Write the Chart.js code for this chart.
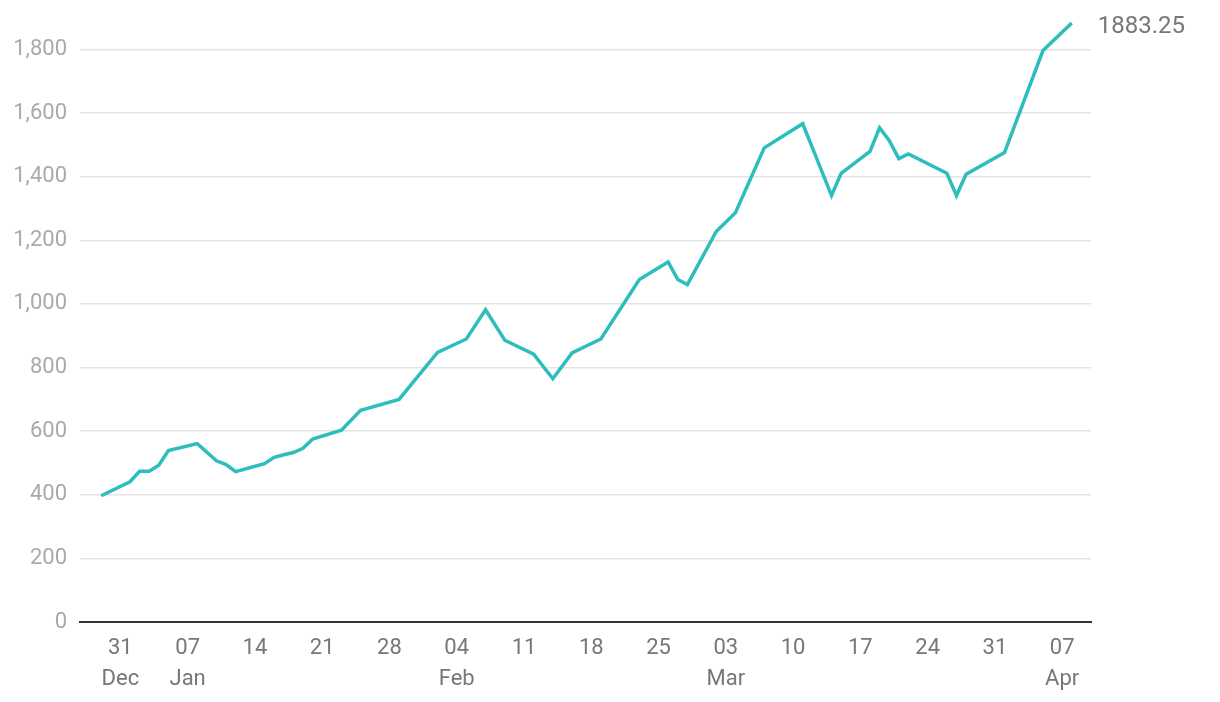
<!DOCTYPE html>
<html>
<head>
<meta charset="utf-8">
<script src="https://cdn.jsdelivr.net/npm/chart.js@4/dist/chart.umd.min.js"></script>
<style>
  html, body { margin: 0; padding: 0; background: #fff; }
  #wrap { width: 1220px; height: 702px; position: relative; }
</style>
</head>
<body>
<div id="wrap"><canvas id="c" width="1220" height="702"></canvas></div>
<script>
// Days counted from 31 Dec (day 0)
const days = [-2, 1, 2, 3, 4, 5, 8, 10, 11, 12, 15, 16, 17, 18, 19, 20, 23, 25, 29, 33, 36, 38, 40, 43, 45, 47, 50, 54, 57, 58, 59, 62, 64, 67, 71, 74, 75, 78, 79, 80, 81, 82, 86, 87, 88, 92, 96, 99];
const values = [397, 441, 474, 474, 493, 539, 561, 507, 495, 473, 498, 518, 526, 533, 546, 575, 603, 666, 700, 848, 890, 982, 886, 842, 765, 846, 890, 1077, 1132, 1077, 1061, 1228, 1287, 1491, 1567, 1341, 1411, 1480, 1554, 1514, 1457, 1472, 1411, 1341, 1408, 1476, 1797, 1883.25];
const tickDays = [0, 7, 14, 21, 28, 35, 42, 49, 56, 63, 70, 77, 84, 91, 98];
const tickDayLabels = ['31', '07', '14', '21', '28', '04', '11', '18', '25', '03', '10', '17', '24', '31', '07'];
const tickMonthLabels = ['Dec', 'Jan', '', '', '', 'Feb', '', '', '', 'Mar', '', '', '', '', 'Apr'];
const yTicks = [0, 200, 400, 600, 800, 1000, 1200, 1400, 1600, 1800];
const lastLabel = '1883.25';

const points = days.map((d, i) => ({ x: d, y: values[i] }));

const endLabel = {
  id: 'endLabel',
  afterDatasetsDraw(chart) {
    const meta = chart.getDatasetMeta(0);
    const p = meta.data[meta.data.length - 1];
    const ctx = chart.ctx;
    ctx.save();
    ctx.font = '24px Roboto';
    ctx.fillStyle = '#777777';
    ctx.textAlign = 'left';
    ctx.textBaseline = 'middle';
    ctx.fillText(lastLabel, p.x + 26, p.y + 4);
    ctx.restore();
  }
};

new Chart(document.getElementById('c'), {
  type: 'line',
  data: {
    datasets: [{
      data: points,
      borderColor: '#2ebdbd',
      borderWidth: 3.5,
      pointRadius: 0,
      tension: 0,
      fill: false,
      clip: false
    }]
  },
  options: {
    responsive: false,
    animation: false,
    layout: { padding: { top: 8.4, right: 129, left: 0, bottom: 0 } },
    plugins: { legend: { display: false }, tooltip: { enabled: false } },
    scales: {
      x: {
        type: 'linear',
        min: -4.2,
        max: 101,
        afterBuildTicks: (axis) => { axis.ticks = tickDays.map(v => ({ value: v })); },
        afterFit: (scale) => { scale.height = 80; },
        grid: { display: false, drawTicks: false },
        border: { display: true, color: '#333333', width: 2 },
        ticks: {
          autoSkip: false,
          maxRotation: 0,
          padding: 11,
          color: '#777777',
          font: { family: 'Roboto', size: 22, lineHeight: 1.4 },
          callback: (v) => {
            const i = tickDays.indexOf(v);
            if (i < 0) return '';
            return tickMonthLabels[i] ? [tickDayLabels[i], tickMonthLabels[i]] : [tickDayLabels[i]];
          }
        }
      },
      y: {
        type: 'linear',
        min: 0,
        max: 1873.5,
        afterBuildTicks: (axis) => { axis.ticks = yTicks.map(v => ({ value: v })); },
        afterFit: (scale) => { scale.width = 80; },
        grid: { color: '#e4e4e4', lineWidth: 1.5, drawTicks: false },
        border: { display: false },
        ticks: {
          padding: 13,
          color: '#aaaaaa',
          font: { family: 'Roboto', size: 22 },
          callback: (v) => v.toLocaleString('en-US')
        }
      }
    }
  },
  plugins: [endLabel]
});
</script>
</body>
</html>
